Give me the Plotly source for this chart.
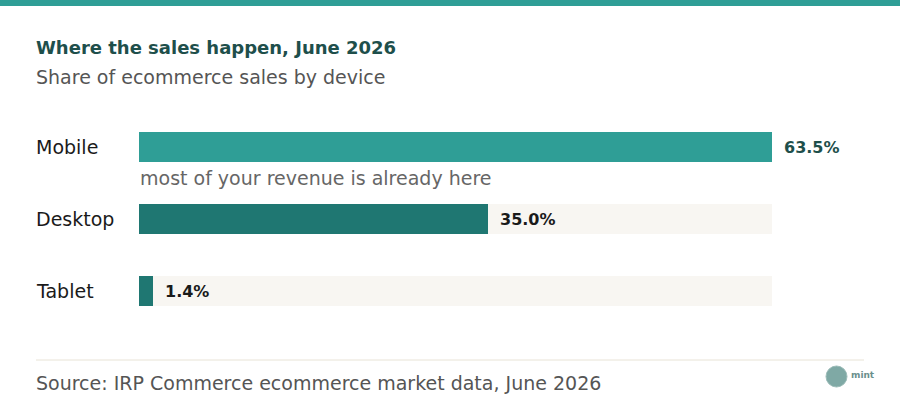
import plotly.graph_objects as go

# Data
devices = ["Mobile", "Desktop", "Tablet"]
shares = [63.5, 35.0, 1.4]
value_labels = ["63.5%", "35.0%", "1.4%"]
bar_colors = ["#2f9e96", "#1f7772", "#1f7772"]
label_colors = ["#1e4f4b", "#1a1a1a", "#1a1a1a"]

TITLE = "Where the sales happen, June 2026"
SUBTITLE = "Share of ecommerce sales by device"
NOTE = "most of your revenue is already here"
SOURCE = "Source: IRP Commerce ecommerce market data, June 2026"

FONT = "DejaVu Sans"
W, H = 900, 412
# plot area in pixels
PL, PR, PT, PB = 139, 772, 111, 327


def px(x):
    return (x - PL) / (PR - PL)


def py(y):
    return (PB - y) / (PB - PT)


ypos = list(range(len(devices)))
xmax = max(shares)

fig = go.Figure()

# light track behind every bar
fig.add_trace(go.Bar(
    y=ypos, x=[xmax] * len(devices), orientation="h",
    marker=dict(color="#f8f6f2", line=dict(width=0)),
    width=0.42, hoverinfo="skip", showlegend=False,
))

fig.add_trace(go.Bar(
    y=ypos, x=shares, orientation="h",
    marker=dict(color=bar_colors, line=dict(width=0)),
    width=0.42, showlegend=False,
))

annotations = []
for i, (d, v, lab, c) in enumerate(zip(devices, shares, value_labels, label_colors)):
    annotations.append(dict(
        x=px(34), xref="paper", y=i, yref="y", text=d, showarrow=False,
        xanchor="left", yanchor="middle",
        font=dict(family=FONT, size=19, color="#1a1a1a"),
    ))
    annotations.append(dict(
        x=v, xref="x", y=i, yref="y", text="<b>%s</b>" % lab, showarrow=False,
        xanchor="left", yanchor="middle", xshift=10,
        font=dict(family=FONT, size=16, color=c),
    ))

annotations += [
    dict(x=px(34), y=py(48), xref="paper", yref="paper", text="<b>%s</b>" % TITLE,
         showarrow=False, xanchor="left", yanchor="middle",
         font=dict(family=FONT, size=18, color="#1e4f4b")),
    dict(x=px(34), y=py(77), xref="paper", yref="paper", text=SUBTITLE,
         showarrow=False, xanchor="left", yanchor="middle",
         font=dict(family=FONT, size=19, color="#555555")),
    dict(x=px(138), y=py(178), xref="paper", yref="paper", text=NOTE,
         showarrow=False, xanchor="left", yanchor="middle",
         font=dict(family=FONT, size=19, color="#666666")),
    dict(x=px(34), y=py(383), xref="paper", yref="paper", text=SOURCE,
         showarrow=False, xanchor="left", yanchor="middle",
         font=dict(family=FONT, size=19, color="#555555")),
    dict(x=px(849), y=py(375), xref="paper", yref="paper", text="<b>mint</b>",
         showarrow=False, xanchor="left", yanchor="middle",
         font=dict(family=FONT, size=9, color="#6a8f8c")),
]

shapes = [
    # teal strip at the top
    dict(type="rect", xref="paper", yref="paper", x0=px(0), x1=px(W),
         y0=py(0), y1=py(6), fillcolor="#2f9e96", line=dict(width=0)),
    # separator above source
    dict(type="line", xref="paper", yref="paper", x0=px(36), x1=px(864),
         y0=py(360), y1=py(360), line=dict(color="#e8e3d6", width=1)),
    # little logo mark
    dict(type="circle", xref="paper", yref="paper", x0=px(826), x1=px(847),
         y0=py(366), y1=py(387), fillcolor="#7fa9a5",
         line=dict(color="#9cbcb8", width=1)),
]

fig.update_layout(
    width=W, height=H,
    margin=dict(l=PL, r=W - PR, t=PT, b=H - PB, pad=0),
    paper_bgcolor="white", plot_bgcolor="white",
    barmode="overlay", bargap=0,
    xaxis=dict(range=[0, xmax], visible=False, fixedrange=True),
    yaxis=dict(range=[len(devices) - 0.5, -0.5], visible=False, fixedrange=True),
    annotations=annotations, shapes=shapes,
    font=dict(family=FONT),
)

fig.write_html(
    "out.html",
    config={"displayModeBar": False},
    post_script="document.body.style.margin='0px';",
)
